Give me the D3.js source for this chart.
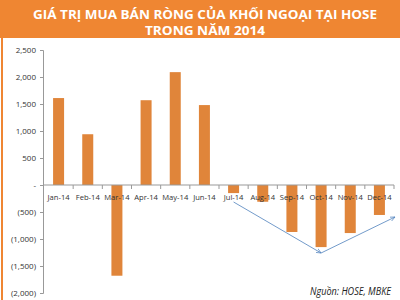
<!DOCTYPE html>
<html><head><meta charset="utf-8">
<script src="https://cdn.jsdelivr.net/npm/d3@7"></script>
<style>body{margin:0;background:#fff}svg{display:block}</style>
</head><body>
<svg id="c" width="400" height="300"></svg>
<script>
const months = ["Jan-14","Feb-14","Mar-14","Apr-14","May-14","Jun-14","Jul-14","Aug-14","Sep-14","Oct-14","Nov-14","Dec-14"];
const netValues = [1610, 940, -1680, 1570, 2090, 1480, -150, -310, -870, -1150, -890, -555];
const yTicks = [2500, 2000, 1500, 1000, 500, 0, -500, -1000, -1500, -2000];
const titleLines = ["GIÁ TRỊ MUA BÁN RÒNG CỦA KHỐI NGOẠI TẠI HOSE", "TRONG NĂM 2014"];
const sourceText = "Nguồn: HOSE, MBKE";

const svg = d3.select("#c");
const orange = "#EF8632";
const barColor = "#E0853A";

// banner
svg.append("rect").attr("x",0).attr("y",0).attr("width",400).attr("height",38).attr("fill",orange);
svg.append("rect").attr("x",1).attr("y",0).attr("width",2).attr("height",300).attr("fill",orange);
const tw = [344, 120];
titleLines.forEach((t,i)=>{
  svg.append("text").attr("x",205).attr("y",19+i*16).attr("text-anchor","middle")
    .attr("font-family","Open Sans").attr("font-weight","bold").attr("font-size",12.5)
    .attr("fill","#fff").attr("textLength",tw[i]).attr("lengthAdjust","spacingAndGlyphs").text(t);
});

const y = d3.scaleLinear().domain([-2000,2500]).range([293,50]);
const x = d3.scaleBand().domain(months).range([44,394]);
const axisX = 43;

// y axis
const yAxis = svg.append("g").attr("transform",`translate(${axisX},0)`)
  .call(d3.axisLeft(y).tickValues(yTicks).tickSize(3).tickFormat(v=> v===0 ? "-" : (v<0 ? "("+d3.format(",")(-v)+")" : d3.format(",")(v))));
yAxis.select(".domain").attr("stroke","#999");
yAxis.selectAll(".tick line").attr("stroke","#999");
yAxis.selectAll("text").attr("font-family","Open Sans").attr("font-size",8).attr("fill","#333").attr("x",-7);

// bars
const bw = 11;
svg.append("g").selectAll("rect").data(netValues).join("rect")
  .attr("x",(d,i)=>x(months[i])+(x.bandwidth()-bw)/2)
  .attr("width",bw)
  .attr("y",d=>y(Math.max(0,d)))
  .attr("height",d=>Math.abs(y(d)-y(0)))
  .attr("fill",barColor);

// x axis at zero
const xAxis = svg.append("g").attr("transform",`translate(0,${y(0)})`);
xAxis.append("line").attr("x1",axisX).attr("x2",394).attr("stroke","#999");
xAxis.selectAll("line.t").data(months).join("line").attr("class","t")
  .attr("x1",d=>x(d)+x.bandwidth()).attr("x2",d=>x(d)+x.bandwidth()).attr("y1",0).attr("y2",4).attr("stroke","#999");
xAxis.selectAll("text").data(months).join("text")
  .attr("x",d=>x(d)+x.bandwidth()/2).attr("y",15).attr("text-anchor","middle")
  .attr("font-family","Open Sans").attr("font-size",7.6).attr("fill","#333").text(d=>d);

// arrows
const defs = svg.append("defs");
defs.append("marker").attr("id","ah").attr("viewBox","0 0 10 10").attr("refX",9).attr("refY",5)
  .attr("markerWidth",7).attr("markerHeight",7).attr("orient","auto")
  .append("path").attr("d","M0,1 L9,5 L0,9").attr("fill","none").attr("stroke","#4F81BD").attr("stroke-width",1.2);
const jx = x("Jul-14")+x.bandwidth()/2, ox = x("Oct-14")+x.bandwidth()/2;
svg.append("line").attr("x1",jx).attr("y1",202).attr("x2",ox).attr("y2",253)
  .attr("stroke","#4F81BD").attr("stroke-width",0.8).attr("marker-end","url(#ah)");
svg.append("line").attr("x1",ox).attr("y1",253).attr("x2",395).attr("y2",217)
  .attr("stroke","#4F81BD").attr("stroke-width",0.8).attr("marker-end","url(#ah)");

// source
svg.append("text").attr("x",391).attr("y",295).attr("text-anchor","end")
  .attr("font-family","Open Sans").attr("font-style","italic").attr("font-size",10)
  .attr("fill","#222").attr("textLength",81).attr("lengthAdjust","spacingAndGlyphs").text(sourceText);
</script>
</body></html>
